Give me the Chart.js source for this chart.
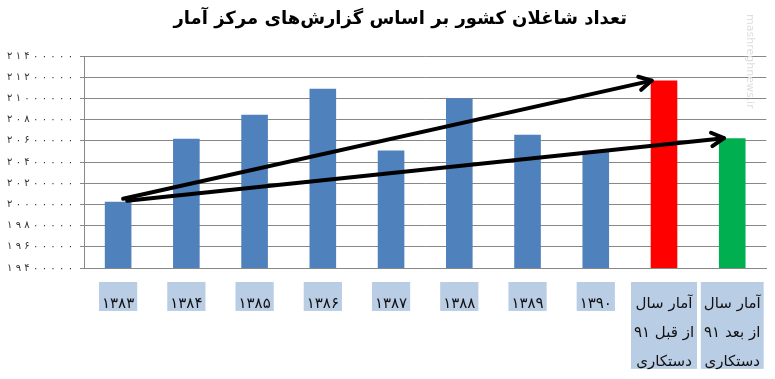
<!DOCTYPE html>
<html lang="fa" dir="ltr">
<head>
    <meta charset="UTF-8">
    <title>تعداد شاغلان کشور</title>
    <script src="https://cdn.jsdelivr.net/npm/chart.js"></script>
    <style>
        html, body { margin: 0; padding: 0; background: #fff; }
        #wrap { width: 775px; height: 379px; }
        canvas { direction: ltr; }
    </style>
</head>
<body>
<div id="wrap"><canvas id="canv" width="775" height="379"></canvas></div>
<script>
    // categories (the last two are multi-line; LRE/LRM keep the words in the same visual order as the original)
    const years = [
        '1383', '1384', '1385', '1386', '1387', '1388', '1389', '1390',
        ['آمار سال', '\u202A۹۱\u200E \u200Eقبل\u200E \u200Eاز\u202C', 'دستکاری'],
        ['آمار سال', '\u202A۹۱\u200E \u200Eبعد\u200E \u200Eاز\u202C', 'دستکاری']
    ]
    // number employed
    const shaghelan = [20025000, 20619000, 20845000, 21090000, 20508000, 21002000, 20656000, 20505000, 21168000, 20625000]
    const barColors = ['#4f81bd', '#4f81bd', '#4f81bd', '#4f81bd', '#4f81bd', '#4f81bd', '#4f81bd', '#4f81bd', '#ff0000', '#00b050']
    // arrows: from bar index -> to bar index
    const arrows = [[0, 8], [0, 9]]
    const yMin = 19400000
    const yMax = 21400000
    const yStep = 200000

    const titulo = 'تعداد شاغلان کشور بر اساس گزارش‌های مرکز آمار'
    const faDigits = '۰۱۲۳۴۵۶۷۸۹'

    const xFontSize = 15
    const xLineHeight = 1.93
    const xPadding = 14

    function toFa(s) {
        return String(s).replace(/[0-9]/g, d => faDigits[+d])
    }

    // title drawn by hand so it can sit a bit left of the plot centre, like the original
    const tituloPlugin = {
        id: 'titulo',
        afterDraw(chart) {
            const ctx = chart.ctx
            const area = chart.chartArea
            ctx.save()
            ctx.font = 'bold 18px "DejaVu Sans"'
            ctx.fillStyle = '#000'
            ctx.textAlign = 'center'
            ctx.textBaseline = 'middle'
            ctx.fillText(titulo, (area.left + area.right) / 2 - 25, 19)
            ctx.restore()
        }
    }

    // label boxes behind x labels (Chart.js redraws the backdrop per line, so do it by hand)
    const cajasPlugin = {
        id: 'cajas',
        beforeDraw(chart) {
            const ctx = chart.ctx
            const xs = chart.scales.x
            const lh = xFontSize * xLineHeight
            ctx.save()
            ctx.font = xFontSize + 'px "DejaVu Sans"'
            ctx.fillStyle = '#b9cde5'
            years.forEach((l, i) => {
                const lines = Array.isArray(l) ? l : [toFa(l)]
                const w = Math.max(...lines.map(t => ctx.measureText(t).width))
                const cx = xs.getPixelForTick(i)
                const top = xs.top + xPadding
                ctx.fillRect(cx - w / 2 - 3, top, w + 6, lines.length * lh)
            })
            ctx.restore()
        }
    }

    const arrowPlugin = {
        id: 'flechas',
        afterDatasetsDraw(chart) {
            const ctx = chart.ctx
            const bars = chart.getDatasetMeta(0).data
            ctx.save()
            ctx.strokeStyle = '#000'
            ctx.lineWidth = 4
            ctx.lineCap = 'round'
            ctx.lineJoin = 'round'
            arrows.forEach((par, k) => {
                const a = bars[par[0]]
                const b = bars[par[1]]
                const x0 = a.x + 5 + k * 4
                const y0 = a.y - 3 + k * 2
                const x1 = b.x - b.width / 2 + 1 + k * 4
                const y1 = b.y
                ctx.beginPath()
                ctx.moveTo(x0, y0)
                ctx.lineTo(x1, y1)
                ctx.stroke()
                // open head
                const ang = Math.atan2(y1 - y0, x1 - x0)
                const len = 14
                ctx.beginPath()
                ctx.moveTo(x1 - len * Math.cos(ang - 0.5), y1 - len * Math.sin(ang - 0.5))
                ctx.lineTo(x1, y1)
                ctx.lineTo(x1 - len * Math.cos(ang + 0.5), y1 - len * Math.sin(ang + 0.5))
                ctx.stroke()
            })
            ctx.restore()
        }
    }

    const marcaPlugin = {
        id: 'marca',
        afterDraw(chart) {
            const ctx = chart.ctx
            ctx.save()
            ctx.translate(750, 14)
            ctx.rotate(Math.PI / 2)
            ctx.fillStyle = '#dedede'
            ctx.font = '11px "DejaVu Sans"'
            ctx.textBaseline = 'middle'
            ctx.fillText('mashreghnews.ir', 0, 0)
            ctx.restore()
        }
    }

    const data = {
        labels: years,
        datasets: [{
            data: shaghelan,
            backgroundColor: barColors,
            borderWidth: 0,
            barPercentage: 0.39,
            categoryPercentage: 1
        }]
    }

    const config = {
        type: 'bar',
        data: data,
        options: {
            responsive: false,
            animation: false,
            layout: { padding: { left: 0, right: 7, top: 56, bottom: 0 } },
            plugins: {
                legend: { display: false },
                tooltip: { enabled: false },
                title: { display: false }
            },
            scales: {
                x: {
                    grid: { display: false },
                    border: { display: true, color: '#878787' },
                    ticks: {
                        autoSkip: false,
                        maxRotation: 0,
                        minRotation: 0,
                        padding: xPadding,
                        color: '#111',
                        font: { family: '"DejaVu Sans"', size: xFontSize, lineHeight: xLineHeight },
                        callback: function (v, i) {
                            const l = years[i]
                            return Array.isArray(l) ? l : toFa(l)
                        }
                    },
                    afterFit: function (scale) { scale.height = 111 }
                },
                y: {
                    min: yMin,
                    max: yMax,
                    grid: { color: '#878787', lineWidth: 1, tickLength: 4 },
                    border: { display: true, color: '#878787' },
                    ticks: {
                        stepSize: yStep,
                        padding: 7,
                        color: '#333',
                        font: { family: '"DejaVu Sans"', size: 10 },
                        callback: v => toFa(v).split('').join('\u2004')
                    },
                    afterFit: function (scale) { scale.width = 84 }
                }
            }
        },
        plugins: [cajasPlugin, arrowPlugin, tituloPlugin, marcaPlugin]
    }

    const chart = new Chart(document.getElementById('canv').getContext('2d'), config)
</script>
</body>
</html>
